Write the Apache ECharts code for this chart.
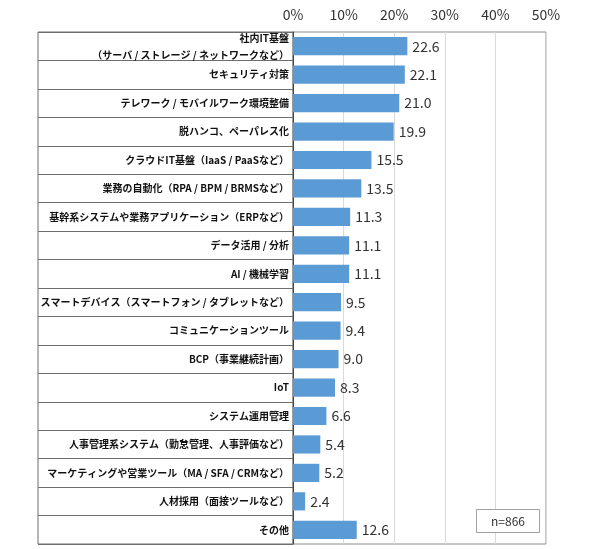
<!DOCTYPE html>
<html>
<head>
<meta charset="utf-8">
<script src="https://cdn.jsdelivr.net/npm/echarts@6/dist/echarts.min.js"></script>
<style>
  html, body { margin: 0; padding: 0; background: #fff; }
  #chart-panel { width: 590px; height: 549px; }
</style>
</head>
<body>
<div id="chart-panel"></div>
<script>
// categories, top to bottom
var categories = [
    '社内IT基盤\n（サーバ / ストレージ / ネットワークなど）',
    'セキュリティ対策',
    'テレワーク / モバイルワーク環境整備',
    '脱ハンコ、ペーパレス化',
    'クラウドIT基盤（IaaS / PaaSなど）',
    '業務の自動化（RPA / BPM / BRMSなど）',
    '基幹系システムや業務アプリケーション（ERPなど）',
    'データ活用 / 分析',
    'AI / 機械学習',
    'スマートデバイス（スマートフォン / タブレットなど）',
    'コミュニケーションツール',
    'BCP（事業継続計画）',
    'IoT',
    'システム運用管理',
    '人事管理系システム（勤怠管理、人事評価など）',
    'マーケティングや営業ツール（MA / SFA / CRMなど）',
    '人材採用（面接ツールなど）',
    'その他'
];
var values = [22.6, 22.1, 21.0, 19.9, 15.5, 13.5, 11.3, 11.1, 11.1, 9.5, 9.4, 9.0, 8.3, 6.6, 5.4, 5.2, 2.4, 12.6];
var sampleNote = 'n=866';

var font = '"Noto Sans CJK JP", "Noto Sans", sans-serif';

var option = {
    animation: false,
    grid: [{
        // plot area
        left: 293, right: 44, top: 32, bottom: 5,
        show: true, borderColor: '#8c8c8c', borderWidth: 1
    }, {
        // label table on the left
        left: 38, width: 255, top: 32, bottom: 5,
        show: true, borderColor: '#6e6e6e', borderWidth: 1
    }],
    title: {
        text: sampleNote,
        right: 50, bottom: 16,
        borderColor: '#a0a0a0', borderWidth: 1,
        padding: [6, 15, 6, 15],
        backgroundColor: '#fff',
        textStyle: { fontFamily: font, fontSize: 12, fontWeight: 'normal', color: '#333' }
    },
    xAxis: [{
        type: 'value', gridIndex: 0, position: 'top',
        min: 0, max: 50, interval: 10,
        axisLine: { show: false },
        axisTick: { show: false },
        splitLine: { lineStyle: { color: '#d9d9d9' } },
        axisLabel: { formatter: '{value}%', fontFamily: font, fontSize: 14, color: '#333', margin: 10 }
    }, {
        type: 'value', gridIndex: 1, show: false, min: 0, max: 1
    }],
    yAxis: [{
        type: 'category', gridIndex: 0, data: categories, inverse: true,
        axisLine: { show: true, lineStyle: { color: '#444' } },
        axisTick: { show: false },
        axisLabel: {
            fontFamily: font, fontSize: 10, fontWeight: 'bold', color: '#111',
            margin: 4, align: 'right', lineHeight: 17
        }
    }, {
        type: 'category', gridIndex: 1, data: categories, inverse: true,
        axisLine: { show: false },
        axisTick: { show: false },
        axisLabel: { show: false },
        splitLine: { show: true, lineStyle: { color: '#6e6e6e' } }
    }],
    series: [{
        type: 'bar',
        xAxisIndex: 0, yAxisIndex: 0,
        data: values,
        barWidth: '64%',
        itemStyle: { color: '#5b9bd5' },
        label: {
            show: true, position: 'right', distance: 5,
            formatter: function (p) { return p.value.toFixed(1); },
            fontFamily: font, fontSize: 14, color: '#333'
        }
    }]
};
var myChart = echarts.init(document.getElementById('chart-panel'));
myChart.setOption(option);
</script>
</body>
</html>
